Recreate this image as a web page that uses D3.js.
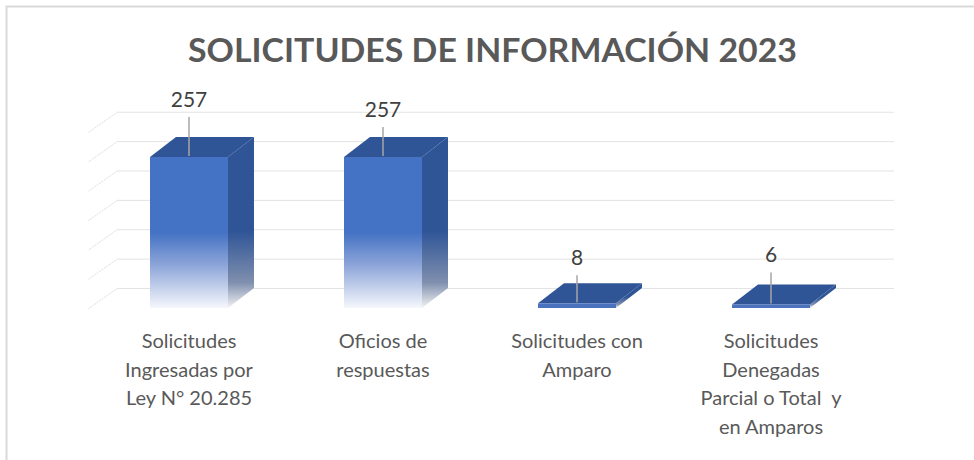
<!DOCTYPE html>
<html>
<head>
<meta charset="utf-8">
<script src="https://cdn.jsdelivr.net/npm/d3@7"></script>
<style>
  body { margin: 0; background: #fff; }
  svg { display: block; font-family: Lato, "Open Sans", sans-serif; }
  .cat text { fill: #595959; font-size: 20px; font-family: Lato, "Open Sans", sans-serif; white-space: pre; }
  .grid line { stroke: #e3e3e3; }
  .grid path { display: none; }
</style>
</head>
<body>
<div id="chart"></div>
<script>
// data
var categories = [
    "Solicitudes Ingresadas por Ley N° 20.285",
    "Oficios de respuestas",
    "Solicitudes con Amparo",
    "Solicitudes Denegadas Parcial o Total  y en Amparos"
];
var catLines = [
    ["Solicitudes", "Ingresadas por", "Ley N° 20.285"],
    ["Oficios de", "respuestas"],
    ["Solicitudes con", "Amparo"],
    ["Solicitudes", "Denegadas", "Parcial o Total  y", "en Amparos"]
];
var values = [257, 257, 8, 6];
var gridTicks = [0, 50, 100, 150, 200, 250, 300];
var title = "SOLICITUDES DE INFORMACIÓN 2023";

// layout
var W = 974, H = 460;
var depth = {dx: 26, dy: -20};
var labelLift = [50, 40, 38, 42];

var svg = d3.select("#chart").append("svg")
    .attr("width", W)
    .attr("height", H);

// frame
svg.append("rect")
    .attr("x", 6.5).attr("y", 6.5)
    .attr("width", 1000).attr("height", 500)
    .attr("fill", "none")
    .attr("stroke", "#d9d9d9")
    .attr("stroke-width", 2);

svg.append("text")
    .attr("x", 492.5)
    .attr("y", 62)
    .attr("text-anchor", "middle")
    .attr("textLength", 609)
    .attr("lengthAdjust", "spacingAndGlyphs")
    .style("font-size", "33px")
    .style("font-weight", "bold")
    .style("fill", "#595959")
    .text(title);

var x = d3.scaleBand()
    .domain(categories)
    .range([92, 868])
    .paddingInner(0.598)
    .paddingOuter(0.299);

var y = d3.scaleLinear()
    .domain([0, 300])
    .range([308, 131.75]);

// gradients
var defs = svg.append("defs");
var gFront = defs.append("linearGradient")
    .attr("id", "front").attr("x1", 0).attr("y1", 0).attr("x2", 0).attr("y2", 1);
gFront.append("stop").attr("offset", 0).attr("stop-color", "#4472c4");
gFront.append("stop").attr("offset", 0.5).attr("stop-color", "#4472c4");
gFront.append("stop").attr("offset", 0.72).attr("stop-color", "#8ea6d9");
gFront.append("stop").attr("offset", 1).attr("stop-color", "#f5f7fc");

var gSide = defs.append("linearGradient")
    .attr("id", "side").attr("x1", 0).attr("y1", 0).attr("x2", 0).attr("y2", 1);
gSide.append("stop").attr("offset", 0).attr("stop-color", "#2f5597");
gSide.append("stop").attr("offset", 0.55).attr("stop-color", "#2f5597");
gSide.append("stop").attr("offset", 0.85).attr("stop-color", "#7f8fae");
gSide.append("stop").attr("offset", 1).attr("stop-color", "#f2f2f2");

// back wall gridlines
var x0 = x.range()[0], x1 = x.range()[1];
svg.append("g")
    .attr("class", "grid")
    .attr("transform", "translate(" + (x0 + depth.dx) + "," + depth.dy + ")")
    .call(d3.axisLeft(y).tickValues(gridTicks).tickSize(-(x1 - x0)).tickFormat(""));

// side wall lines
svg.append("g").selectAll("line")
    .data(gridTicks)
    .enter().append("line")
    .attr("x1", x0 + depth.dx)
    .attr("y1", function (d) { return y(d) + depth.dy; })
    .attr("x2", x0 - 4)
    .attr("y2", function (d) { return y(d) + 1; })
    .attr("stroke", "#dedede")
    .attr("stroke-dasharray", "2,1");

// bars
var bars = svg.append("g").selectAll("g")
    .data(values)
    .enter().append("g");

bars.append("path")
    .attr("d", function (d, i) {
        var l = x(categories[i]), r = l + x.bandwidth(), t = y(d), b = y(0);
        return "M" + r + "," + t + "L" + (r + depth.dx) + "," + (t + depth.dy) +
            "L" + (r + depth.dx) + "," + (b + depth.dy) + "L" + r + "," + b + "Z";
    })
    .attr("fill", "url(#side)");

bars.append("path")
    .attr("d", function (d, i) {
        var l = x(categories[i]), r = l + x.bandwidth(), t = y(d);
        return "M" + l + "," + t + "L" + (l + depth.dx) + "," + (t + depth.dy) +
            "L" + (r + depth.dx) + "," + (t + depth.dy) + "L" + r + "," + t + "Z";
    })
    .attr("fill", "#2f5597");

bars.append("rect")
    .attr("x", function (d, i) { return x(categories[i]); })
    .attr("y", function (d) { return y(d); })
    .attr("width", x.bandwidth())
    .attr("height", function (d) { return y(0) - y(d); })
    .attr("fill", function (d) { return y(0) - y(d) > 10 ? "url(#front)" : "#4a72bf"; });

// leader lines and value labels
bars.append("line")
    .attr("x1", function (d, i) { return x(categories[i]) + x.bandwidth() / 2; })
    .attr("x2", function (d, i) { return x(categories[i]) + x.bandwidth() / 2; })
    .attr("y1", function (d, i) { return y(d) - labelLift[i] + 10; })
    .attr("y2", function (d) { return y(d) - 1; })
    .attr("stroke", "#a6a6a6")
    .attr("stroke-width", 1.5);

bars.append("text")
    .attr("x", function (d, i) { return x(categories[i]) + x.bandwidth() / 2; })
    .attr("y", function (d, i) { return y(d) - labelLift[i]; })
    .attr("text-anchor", "middle")
    .style("font-size", "21px")
    .style("fill", "#404040")
    .text(function (d) { return d; });

// category axis
var xAxis = svg.append("g")
    .attr("class", "cat")
    .attr("transform", "translate(0,320)")
    .call(d3.axisBottom(x).tickSize(0).tickFormat(""));
xAxis.select(".domain").remove();
xAxis.selectAll(".tick text")
    .each(function (d, i) {
        var t = d3.select(this).attr("y", 0).attr("dy", null);
        catLines[i].forEach(function (s, k) {
            t.append("tspan")
                .attr("x", 0)
                .attr("y", 28 + k * 28.5)
                .text(s);
        });
    });
</script>
</body>
</html>
